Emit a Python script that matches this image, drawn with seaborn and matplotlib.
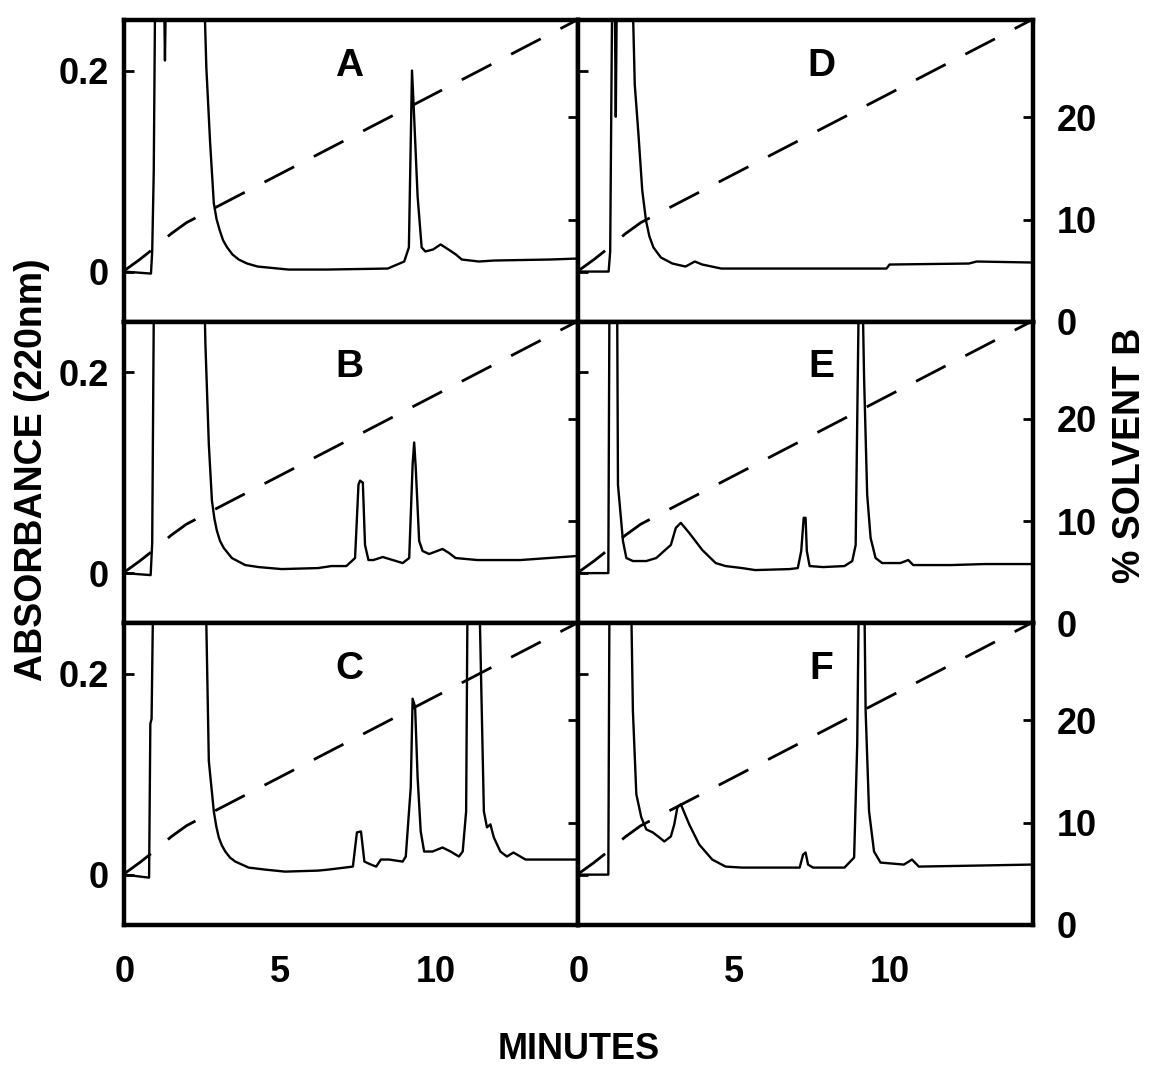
import matplotlib
matplotlib.use("Agg")
import matplotlib.pyplot as plt
import seaborn as sns

# --- gradient (% solvent B), same in every panel
grad_time = [0, 0.5, 1.0, 1.5, 2.0, 2.5, 14.6]
grad_pct = [5.0, 6.1, 7.3, 8.6, 9.7, 10.5, 29.6]

# --- chromatograms (absorbance at 220 nm), off-scale peaks go to 0.30
a_time = [0, 0.86, 0.90, 0.95, 1.00, 1.27, 1.31, 1.35, 2.55, 2.64, 2.76, 2.88, 2.97, 3.07, 3.18, 3.31,
          3.48, 3.68, 3.95, 4.29, 5.28, 6.5, 8.47, 9.00, 9.15, 9.25, 9.31, 9.43, 9.56, 9.68, 9.93,
          10.17, 10.42, 10.66, 10.85, 11.4, 11.9, 13.7, 14.6]
a_abs = [0, -0.002, 0.02, 0.10, 0.30, 0.30, 0.21, 0.30, 0.30, 0.203, 0.129, 0.068, 0.052, 0.041, 0.031, 0.024,
         0.017, 0.012, 0.008, 0.005, 0.002, 0.002, 0.003, 0.010, 0.024, 0.200, 0.16, 0.075, 0.024, 0.020, 0.022,
         0.027, 0.022, 0.017, 0.012, 0.010, 0.011, 0.012, 0.013]

b_time = [0, 0.85, 0.90, 0.96, 2.56, 2.61, 2.72, 2.82, 2.90, 2.98, 3.08, 3.20, 3.46, 3.89, 4.32, 5.06,
          6.23, 6.66, 7.14, 7.42, 7.53, 7.58, 7.67, 7.74, 7.85, 8.01, 8.31, 8.63, 8.95, 9.16, 9.27,
          9.32, 9.37, 9.48, 9.59, 9.80, 10.23, 10.44, 10.65, 11.35, 12.74, 14.55]
b_abs = [0, -0.002, 0.03, 0.30, 0.30, 0.228, 0.128, 0.072, 0.054, 0.042, 0.032, 0.025, 0.015, 0.008, 0.006, 0.004,
         0.005, 0.007, 0.007, 0.015, 0.088, 0.092, 0.090, 0.028, 0.013, 0.013, 0.016, 0.013, 0.010, 0.015, 0.108,
         0.130, 0.105, 0.032, 0.022, 0.019, 0.024, 0.020, 0.015, 0.013, 0.013, 0.017]

c_time = [0, 0.80, 0.84, 0.88, 0.94, 2.61, 2.72, 2.88, 2.96, 3.04, 3.14, 3.25, 3.40, 3.57, 4.00, 4.53,
          5.17, 6.23, 6.56, 7.35, 7.48, 7.61, 7.72, 7.93, 8.10, 8.25, 8.52, 8.73, 8.95, 9.05, 9.21,
          9.27, 9.35, 9.43, 9.53, 9.64, 9.91, 10.23, 10.49, 10.76, 10.88, 10.99, 11.04, 11.40, 11.56,
          11.66, 11.77, 11.88, 12.09, 12.30, 12.51, 12.90, 13.10, 14.55]
c_abs = [0, -0.003, 0.15, 0.155, 0.30, 0.30, 0.113, 0.063, 0.048, 0.037, 0.029, 0.023, 0.017, 0.013, 0.007, 0.005,
         0.003, 0.004, 0.005, 0.008, 0.042, 0.043, 0.013, 0.010, 0.008, 0.015, 0.015, 0.014, 0.013, 0.018, 0.087,
         0.175, 0.167, 0.097, 0.043, 0.023, 0.023, 0.027, 0.023, 0.018, 0.023, 0.063, 0.30, 0.30, 0.063,
         0.047, 0.050, 0.037, 0.023, 0.018, 0.022, 0.015, 0.015, 0.015]

d_time = [0, 0.97, 1.02, 1.09, 1.16, 1.20, 1.24, 1.72, 1.81, 1.93, 2.05, 2.17, 2.28, 2.41, 2.65, 3.02,
          3.44, 3.74, 3.98, 4.59, 9.9, 10.0, 12.55, 12.8, 14.6]
d_abs = [0, 0, 0.02, 0.30, 0.30, 0.154, 0.30, 0.30, 0.186, 0.136, 0.081, 0.051, 0.035, 0.024, 0.014, 0.008,
         0.005, 0.010, 0.007, 0.003, 0.003, 0.007, 0.008, 0.010, 0.009]

e_time = [0, 0.96, 1.00, 1.24, 1.27, 1.43, 1.54, 1.75, 2.18, 2.50, 2.97, 3.13, 3.29, 3.56, 3.98, 4.41,
          4.73, 5.26, 5.68, 6.79, 7.05, 7.16, 7.24, 7.30, 7.34, 7.43, 7.86, 8.55, 8.80, 8.91, 9.02,
          9.12, 9.18, 9.28, 9.39, 9.55, 9.76, 10.35, 10.60, 10.76, 11.99, 13.05, 14.55]
e_abs = [0, 0, 0.30, 0.30, 0.088, 0.032, 0.015, 0.012, 0.012, 0.015, 0.028, 0.045, 0.050, 0.040, 0.023, 0.010,
         0.007, 0.005, 0.003, 0.004, 0.005, 0.022, 0.055, 0.055, 0.022, 0.007, 0.006, 0.007, 0.012, 0.028, 0.30,
         0.30, 0.195, 0.078, 0.035, 0.015, 0.010, 0.010, 0.013, 0.008, 0.008, 0.009, 0.009]

f_time = [0, 0.96, 1.00, 1.68, 1.75, 1.86, 2.02, 2.18, 2.39, 2.60, 2.76, 2.97, 3.08, 3.18, 3.29, 3.56,
          3.88, 4.30, 4.73, 5.26, 7.11, 7.22, 7.30, 7.38, 7.54, 8.55, 8.86, 8.96, 9.02, 9.18, 9.23,
          9.34, 9.50, 9.71, 10.46, 10.72, 10.94, 12.80, 14.55]
f_abs = [0, 0, 0.30, 0.30, 0.163, 0.080, 0.057, 0.045, 0.042, 0.037, 0.033, 0.038, 0.050, 0.067, 0.070, 0.050,
         0.030, 0.015, 0.008, 0.007, 0.007, 0.020, 0.022, 0.010, 0.007, 0.007, 0.017, 0.130, 0.30, 0.30, 0.163,
         0.063, 0.023, 0.012, 0.010, 0.015, 0.008, 0.009, 0.010]

x_ticks = [0, 5, 10]
abs_ticks = [0, 0.2]
abs_labels = ["0", "0.2"]
pct_ticks = [0, 10, 20]

# grid layout: rows top->bottom, columns left/right
PANELS = [
    [("A", a_time, a_abs), ("D", d_time, d_abs)],
    [("B", b_time, b_abs), ("E", e_time, e_abs)],
    [("C", c_time, c_abs), ("F", f_time, f_abs)],
]

FS = 26
SPINE_W = 3.2


# ------------------------------------------------------------------------------
def draw_panel(ax, letter, t, a, col, row):
    sns.lineplot(x=t, y=a, ax=ax, color="black", linewidth=1.7, estimator=None, sort=False)
    ax.set_xlim(0, 14.6)
    ax.set_ylim(-0.05, 0.25)
    ax.set_xlabel("")
    ax.set_ylabel("")

    ax2 = ax.twinx()
    sns.lineplot(x=grad_time, y=grad_pct, ax=ax2, color="black", linewidth=2.0,
                 estimator=None, sort=False)
    ax2.lines[0].set_dashes((12, 8))
    ax2.set_ylim(0, 29.5)
    ax2.set_ylabel("")
    for sp in ax2.spines.values():
        sp.set_visible(False)

    for sp in ax.spines.values():
        sp.set_visible(True)
        sp.set_linewidth(SPINE_W)
        sp.set_color("black")

    ax.set_xticks(x_ticks)
    ax.set_yticks(abs_ticks)
    ax2.set_yticks(pct_ticks)
    ax.tick_params(axis="both", direction="in", length=7, width=2, colors="black",
                   top=False, right=False, labelsize=FS)
    ax.tick_params(axis="y", pad=11)
    ax.tick_params(axis="x", pad=22)
    ax2.tick_params(axis="y", direction="in", length=7, width=2, colors="black",
                    left=False, right=True, labelsize=FS, pad=17)

    if col == 0:
        ax.set_yticklabels(abs_labels, fontweight="bold")
        ax2.set_yticklabels([])
    else:
        ax.set_yticklabels([])
        ax2.set_yticklabels([str(v) for v in pct_ticks], fontweight="bold")

    if row == 2:
        ax.set_xticklabels([str(v) for v in x_ticks], fontweight="bold")
    else:
        ax.set_xticklabels([])

    xpos = 7.24 if col == 0 else 7.8
    ax.text(xpos, 0.205, letter, ha="center", va="center", fontsize=28, fontweight="bold",
            color="black")


# ------------------------------------------------------------------------------
def main():
    sns.set_style("white")
    plt.rcParams["font.family"] = ["Liberation Sans", "DejaVu Sans"]
    plt.rcParams["text.color"] = "black"
    plt.rcParams["xtick.color"] = "black"
    plt.rcParams["ytick.color"] = "black"
    plt.rcParams["axes.labelcolor"] = "black"

    fig = plt.figure(figsize=(11.5, 10.68), dpi=100)
    axes = fig.subplots(3, 2)
    fig.subplots_adjust(left=0.108, right=0.898, top=0.981, bottom=0.134, hspace=0, wspace=0)

    for row in range(3):
        for col in range(2):
            letter, t, a = PANELS[row][col]
            draw_panel(axes[row][col], letter, t, a, col, row)

    fig.text(0.028, 0.56, "ABSORBANCE (220nm)", rotation=90, ha="center", va="center",
             fontsize=27, fontweight="bold", color="black")
    fig.text(0.983, 0.574, "% SOLVENT B", rotation=90, ha="center", va="center",
             fontsize=27, fontweight="bold", color="black")
    fig.text(0.503, 0.017, "MINUTES", ha="center", va="center", fontsize=26, fontweight="bold",
             color="black")

    fig.savefig("out.png", dpi=100, facecolor="white")


################################################################################
if __name__ == "__main__":
    main()
